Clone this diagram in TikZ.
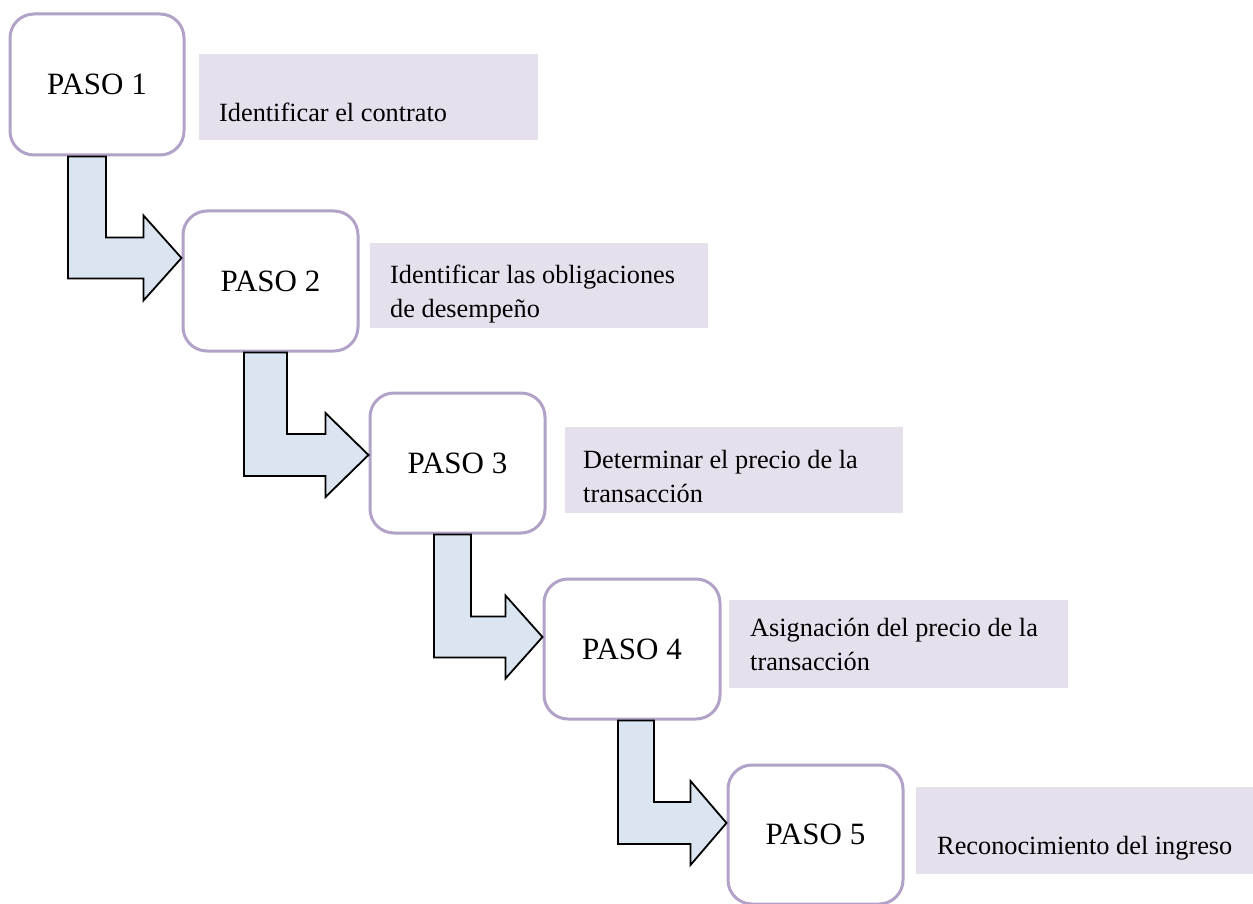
\documentclass[tikz,border=0pt]{standalone}
\usepackage{fontspec}
\setmainfont{Liberation Serif}
\usetikzlibrary{calc}

\definecolor{stepline}{HTML}{B3A2C7}
\definecolor{notefill}{HTML}{E5E0EC}
\definecolor{arrowfill}{HTML}{DBE5F1}

\tikzset{
  stepbox/.style={draw=stepline, line width=3pt, fill=white, rounded corners=24pt,
    inner sep=0pt, font=\fontsize{31}{37}\selectfont},
  notebox/.style={fill=notefill, draw=none, inner sep=0pt},
  notetext/.style={anchor=base west, inner sep=0pt, align=left,
    font=\fontsize{26.3}{34}\selectfont},
  flowarrowstyle/.style={draw=black, line width=1.8pt, fill=arrowfill, line join=miter},
}

% Bent block arrow from the bottom of #1 to the left side of #2.
% #3 shaft offset from #1's left edge, #4 shaft width, #5 tip height above #2.west,
% #6 half bar height, #7 head length, #8 half head height
\newcommand{\flowarrow}[8]{%
  \coordinate (fa-s) at ($(#1.south west)+(#3,0)$);
  \coordinate (fa-t) at ($(#2.west)+(0,-#5)$);
  \draw[flowarrowstyle] let \p1=(fa-s), \p2=(fa-t) in
    (\x1,\y1) -- (\x1+#4pt,\y1) -- (\x1+#4pt,\y2+#6pt) -- (\x2-#7pt,\y2+#6pt)
    -- (\x2-#7pt,\y2+#8pt) -- (\x2,\y2) -- (\x2-#7pt,\y2-#8pt)
    -- (\x2-#7pt,\y2-#6pt) -- (\x1,\y2-#6pt) -- cycle;
}

\begin{document}
\begin{tikzpicture}[x=1pt, y=-1pt]
  \useasboundingbox (0,0) rectangle (1253,904);

  % step boxes
  \node[stepbox, minimum width=174pt, minimum height=141pt] (p1) at (97,84.5) {PASO 1};
  \node[stepbox, minimum width=175pt, minimum height=140pt] (p2) at (270.5,281) {PASO 2};
  \node[stepbox, minimum width=175pt, minimum height=140pt] (p3) at (457.5,463) {PASO 3};
  \node[stepbox, minimum width=176pt, minimum height=140pt] (p4) at (632,649) {PASO 4};
  \node[stepbox, minimum width=175pt, minimum height=139pt] (p5) at (815.5,834.5) {PASO 5};

  % shaded notes beside each step
  \node[notebox, minimum width=339pt, minimum height=86pt] (n1) at (368.5,97) {};
  \node[notebox, minimum width=338pt, minimum height=85pt] (n2) at (539,285.5) {};
  \node[notebox, minimum width=338pt, minimum height=86pt] (n3) at (734,470) {};
  \node[notebox, minimum width=339pt, minimum height=88pt] (n4) at (898.5,644) {};
  \node[notebox, minimum width=337pt, minimum height=87pt] (n5) at (1084.5,830.5) {};

  % note texts (anchored at the baseline of their last line)
  \node[notetext] (t1) at (219,122) {Identificar el contrato};
  \node[notetext] (t2) at (390,317) {Identificar las obligaciones\\de desempeño};
  \node[notetext] (t3) at (583,502) {Determinar el precio de la\\transacción};
  \node[notetext] (t4) at (750,670) {Asignación del precio de la\\transacción};
  \node[notetext] (t5) at (937,854) {Reconocimiento del ingreso};

  % bent arrows between consecutive steps
  \flowarrow{p1}{p2}{59.5}{38}{23}{20.5}{38}{42.5}
  \flowarrow{p2}{p3}{62.5}{43}{8}{21}{43}{42}
  \flowarrow{p3}{p4}{65.5}{37}{12}{20.5}{37}{41.5}
  \flowarrow{p4}{p5}{75.5}{36}{11.5}{21}{36}{42}
\end{tikzpicture}
\end{document}
